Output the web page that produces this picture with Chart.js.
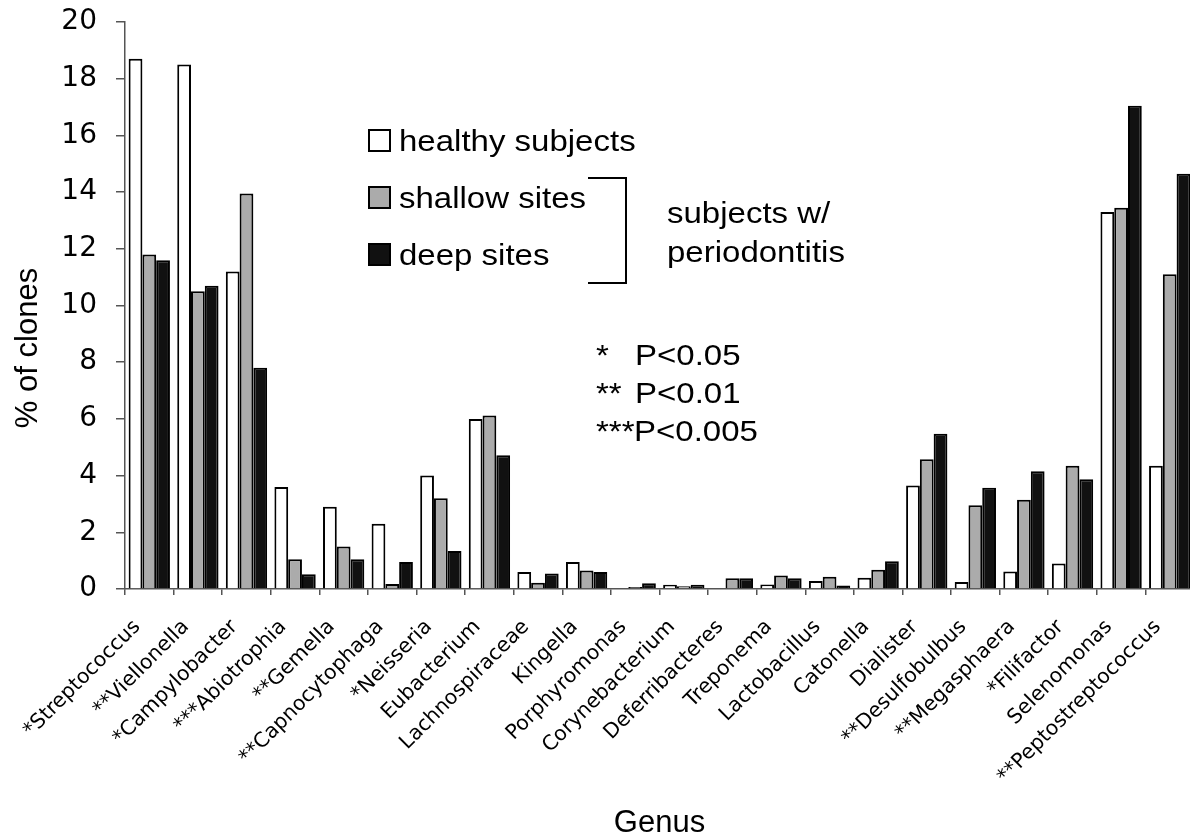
<!DOCTYPE html>
<html>
<head>
<meta charset="utf-8">
<script src="https://cdn.jsdelivr.net/npm/chart.js@4.4.0/dist/chart.umd.min.js"></script>
<style>
  html, body { margin: 0; padding: 0; background: #fff; overflow: hidden; }
  #wrap { width: 1200px; height: 837px; }
</style>
</head>
<body>
<div id="wrap"><canvas id="clones"></canvas></div>
<script>
const genera = ["*Streptococcus", "**Viellonella", "*Campylobacter", "***Abiotrophia", "**Gemella",
  "**Capnocytophaga", "*Neisseria", "Eubacterium", "Lachnospiraceae", "Kingella", "Porphyromonas",
  "Corynebacterium", "Deferribacteres", "Treponema", "Lactobacillus", "Catonella", "Dialister",
  "**Desulfobulbus", "**Megasphaera", "*Filifactor", "Selenomonas", "**Peptostreptococcus"];
const healthy = [18.7, 18.5, 11.2, 3.6, 2.9, 2.3, 4.0, 6.0, 0.6, 0.95, 0.0, 0.15, 0.03, 0.16, 0.28, 0.4, 3.65, 0.25, 0.62, 0.9, 13.3, 4.35];
const shallow = [11.8, 10.5, 13.95, 1.05, 1.5, 0.18, 3.2, 6.12, 0.22, 0.65, 0.07, 0.1, 0.38, 0.48, 0.43, 0.68, 4.58, 2.95, 3.15, 4.35, 13.45, 11.1];
const deep = [11.6, 10.7, 7.8, 0.52, 1.05, 0.95, 1.34, 4.72, 0.55, 0.6, 0.2, 0.15, 0.38, 0.38, 0.12, 0.98, 5.48, 3.57, 4.15, 3.87, 17.05, 14.65];
const yTicks = [0, 2, 4, 6, 8, 10, 12, 14, 16, 18, 20];

const sans = "Liberation Sans, Arial, sans-serif";
const verdana = "DejaVu Sans, Verdana, sans-serif";

// text slightly stretched sideways, like the scanned figure
function wideText(ctx, str, x, y) {
  ctx.save();
  ctx.translate(x, y);
  ctx.scale(1.1, 1);
  ctx.fillText(str, 0, 0);
  ctx.restore();
}

// legend, bracket, p-values and y title drawn over the chart
const notes = {
  id: "notes",
  afterDraw(chart) {
    const ctx = chart.ctx;
    ctx.save();
    ctx.font = "30px " + sans;
    ctx.fillStyle = "#000";
    ctx.strokeStyle = "#000";
    ctx.lineWidth = 2;
    const rows = [151, 208, 265];
    chart.data.datasets.forEach((d, i) => {
      const y = rows[i];
      ctx.fillStyle = d.backgroundColor;
      ctx.fillRect(369, y - 21, 21, 21);
      ctx.strokeRect(369, y - 21, 21, 21);
      ctx.fillStyle = "#000";
      wideText(ctx, d.label, 399, y);
    });
    ctx.beginPath();
    ctx.moveTo(588, 178);
    ctx.lineTo(626, 178);
    ctx.lineTo(626, 283);
    ctx.lineTo(588, 283);
    ctx.stroke();
    wideText(ctx, "subjects w/", 667, 223);
    wideText(ctx, "periodontitis", 667, 262);

    wideText(ctx, "*", 596, 365);
    wideText(ctx, "P<0.05", 635, 365);
    wideText(ctx, "**", 596, 403);
    wideText(ctx, "P<0.01", 635, 403);
    wideText(ctx, "***", 596, 441);
    wideText(ctx, "P<0.005", 634, 441);

    ctx.font = "31px " + sans;
    ctx.translate(37, 348);
    ctx.rotate(-Math.PI / 2);
    ctx.textAlign = "center";
    ctx.fillText("% of clones", 0, 0);
    ctx.restore();
  }
};

const data = {
  labels: genera,
  datasets: [
    { label: "healthy subjects", data: healthy, backgroundColor: "#ffffff" },
    { label: "shallow sites", data: shallow, backgroundColor: "#ababab" },
    { label: "deep sites", data: deep, backgroundColor: "#111111" }
  ]
};
data.datasets.forEach(d => {
  d.borderColor = "#000";
  d.borderWidth = 2;
  d.categoryPercentage = 0.85;
  d.barPercentage = 1.0;
});

new Chart(document.getElementById("clones"), {
  type: "bar",
  data: data,
  options: {
    responsive: true,
    maintainAspectRatio: false,
    animation: false,
    layout: { padding: { top: 22, right: 6, left: 0, bottom: 0 } },
    plugins: {
      legend: { display: false },
      tooltip: { enabled: false }
    },
    scales: {
      x: {
        grid: { display: true, drawOnChartArea: false, tickLength: 6, color: "#555", lineWidth: 1.5 },
        border: { display: true, color: "#555", width: 1.5 },
        ticks: {
          autoSkip: false,
          minRotation: 45,
          maxRotation: 45,
          labelOffset: -12,
          padding: 20,
          color: "#000",
          font: { family: verdana, size: 20.5 }
        },
        title: {
          display: true,
          text: "Genus",
          color: "#000",
          padding: { top: -5, bottom: -5 },
          font: { family: sans, size: 31 }
        },
        afterFit(scale) {
          scale.height = 248;
          scale.paddingLeft = 0;
          scale.paddingRight = 0;
        }
      },
      y: {
        min: 0,
        max: 20,
        afterBuildTicks(scale) { scale.ticks = yTicks.map(v => ({ value: v })); },
        grid: { display: true, drawOnChartArea: false, tickLength: 9, color: "#555", lineWidth: 1.5 },
        border: { display: true, color: "#555", width: 1.5 },
        ticks: {
          padding: 19,
          color: "#000",
          font: { family: verdana, size: 28 }
        },
        afterFit(scale) {
          scale.width = 125;
          scale.paddingTop = 0;
          scale.paddingBottom = 0;
        }
      }
    }
  },
  plugins: [notes]
});
</script>
</body>
</html>
